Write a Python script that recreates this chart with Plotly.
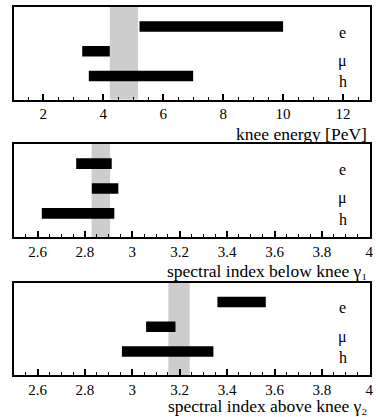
import plotly.graph_objects as go

# ---- data ----
species = ["e", "μ", "h"]
species_y = [3, 2, 1]

knee_lo = [5.21, 3.30, 3.52]
knee_hi = [10.0, 4.22, 7.0]
knee_band = [4.22, 5.16]

gamma1_lo = [2.763, 2.829, 2.618]
gamma1_hi = [2.913, 2.941, 2.924]
gamma1_band = [2.828, 2.906]

gamma2_lo = [3.359, 3.058, 2.956]
gamma2_hi = [3.563, 3.182, 3.342]
gamma2_band = [3.152, 3.242]

knee_ticks = [2, 4, 6, 8, 10, 12]
knee_ticktext = ["2", "4", "6", "8", "10", "12"]
gamma_ticks = [2.6, 2.8, 3.0, 3.2, 3.4, 3.6, 3.8, 4.0]
gamma_ticktext = ["2.6", "2.8", "3", "3.2", "3.4", "3.6", "3.8", "4"]

titles = ["knee energy [PeV]",
          "spectral index below knee γ₁",
          "spectral index above knee γ₂"]

W, H = 378, 417
FONT = "Liberation Serif"

panels = [
    dict(lo=knee_lo, hi=knee_hi, band=knee_band, rng=[1.02, 12.9],
         tv=knee_ticks, tt=knee_ticktext, minor=0.5, mtick0=0, top=7, bot=99.5, toff=34),
    dict(lo=gamma1_lo, hi=gamma1_hi, band=gamma1_band, rng=[2.5, 4.003],
         tv=gamma_ticks, tt=gamma_ticktext, minor=0.05, mtick0=2.5, top=144, bot=237, toff=34),
    dict(lo=gamma2_lo, hi=gamma2_hi, band=gamma2_band, rng=[2.5, 4.003],
         tv=gamma_ticks, tt=gamma_ticktext, minor=0.05, mtick0=2.5, top=282.5, bot=375, toff=31),
]

fig = go.Figure()
shapes = []
annotations = []
layout = {}
xdom = [14 / W, 374 / W]
YR = [0.05, 3.79]
label_y = [2.76, 1.6, 0.76]

for i, p in enumerate(panels):
    n = "" if i == 0 else str(i + 1)
    xa, ya = "x" + n, "y" + n
    fig.add_trace(go.Bar(
        orientation="h", y=species_y,
        x=[h - l for l, h in zip(p["lo"], p["hi"])], base=p["lo"],
        width=0.43, marker=dict(color="black", line=dict(width=0)),
        xaxis=xa, yaxis=ya, showlegend=False, hoverinfo="skip"))
    ydom = [(H - p["bot"]) / H, (H - p["top"]) / H]
    layout["xaxis" + n] = dict(
        domain=xdom, anchor=ya, range=p["rng"], showgrid=False, zeroline=False,
        showline=True, linecolor="black", linewidth=1.5, mirror=True,
        ticks="inside", ticklen=6, tickwidth=1.5, tickcolor="black",
        tickvals=p["tv"], ticktext=p["tt"], ticklabelstandoff=0,
        tickfont=dict(family=FONT, size=15, color="black"),
        minor=dict(ticks="inside", ticklen=3, tickwidth=1.2, tickcolor="black",
                   dtick=p["minor"], tick0=p["mtick0"], showgrid=False),
        fixedrange=True)
    layout["yaxis" + n] = dict(
        domain=ydom, anchor=xa, range=YR, showgrid=False, zeroline=False,
        showline=True, linecolor="black", linewidth=1.5, mirror=True,
        ticks="", showticklabels=False, fixedrange=True)
    shapes.append(dict(type="rect", xref=xa, yref=ya + " domain",
                       x0=p["band"][0], x1=p["band"][1], y0=0, y1=1,
                       fillcolor="#cdcdcd", line=dict(width=0), layer="below"))
    for s, ly in zip(species, label_y):
        annotations.append(dict(xref=xa + " domain", yref=ya, x=(346.5 - 14) / 360, y=ly,
                                text=s, showarrow=False, xanchor="center", yanchor="middle",
                                font=dict(family=FONT, size=16, color="black")))
    annotations.append(dict(xref="paper", yref="paper", x=373 / W,
                            y=(H - (p["bot"] + p["toff"])) / H, text=titles[i], showarrow=False,
                            xanchor="right", yanchor="middle",
                            font=dict(family=FONT, size=17.5, color="black")))

fig.update_layout(
    width=W, height=H, margin=dict(l=0, r=0, t=0, b=0),
    paper_bgcolor="white", plot_bgcolor="white",
    barmode="overlay", shapes=shapes, annotations=annotations, **layout)

fig.write_html("out.html")
